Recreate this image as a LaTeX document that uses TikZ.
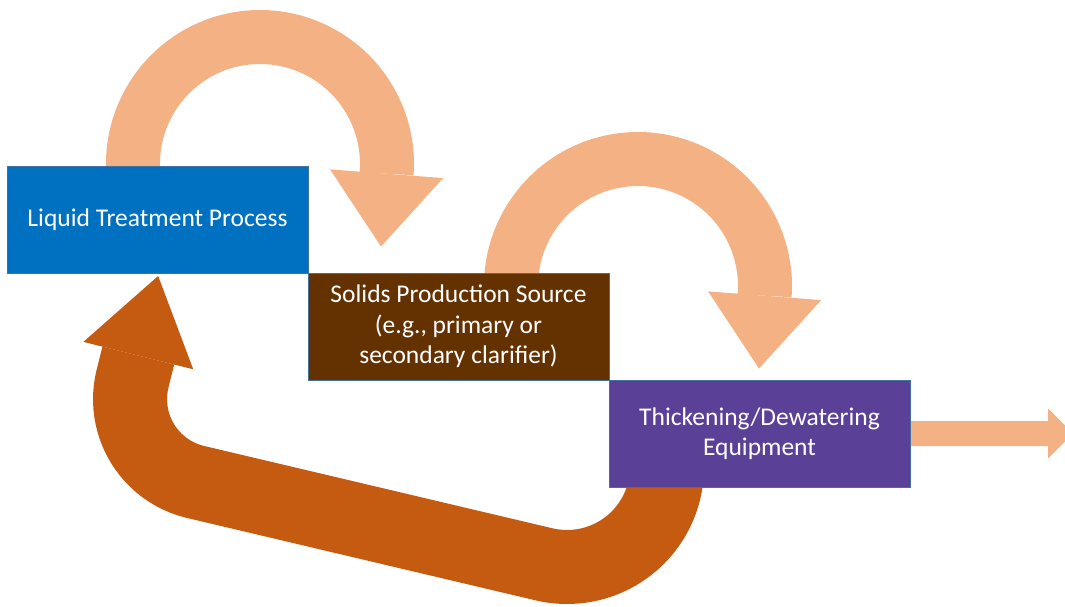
\documentclass[tikz,border=0pt]{standalone}
\usepackage{fontspec}
\setmainfont{Carlito}
\usepackage{xcolor}
\usetikzlibrary{calc,positioning,backgrounds}

\definecolor{ltblue}{RGB}{0,112,192}
\definecolor{spsbrown}{RGB}{100,50,0}
\definecolor{tdepurple}{RGB}{91,64,151}
\definecolor{boxedge}{RGB}{65,113,156}
\definecolor{peach}{RGB}{244,177,131}
\definecolor{rust}{RGB}{197,90,17}

\begin{document}
\begin{tikzpicture}[
			x=1pt, y=1pt,
			box/.style={draw=boxedge, line width=0.8pt, text=white, minimum width=301pt,
				minimum height=107pt, inner sep=0pt, outer sep=0pt, align=center,
				font=\fontsize{25.5}{30.5}\selectfont}
			]
			\useasboundingbox (0,0) rectangle (1065,606);
			% Process boxes, stepping down to the right
			\node[box, fill=ltblue] (lt) at (157.5,386.5) {Liquid Treatment Process};
			\node[box, fill=spsbrown, below right=0pt and 0pt of lt] (sps) {Solids Production Source\\(e.g., primary or\\secondary clarifier)};
			\node[box, fill=tdepurple, below right=0pt and 0pt of sps] (tde) {Thickening/Dewatering\\Equipment};
			
			\begin{scope}[on background layer]
				% Curved arrows from one box over to the next
				\coordinate (c1) at ($(lt.north east)+(-48,2)$);
				\coordinate (c2) at ($(sps.north east)+(29,-13)$);
				\foreach \c in {c1,c2} {
					\draw[peach, line width=54pt] ($(\c)+(185:127)$) arc[start angle=185, end angle=-4.4, radius=127];
					\fill[peach] ($(\c)+(-4.4:70.3)$) -- ($(\c)+(-4.4:183.7)$) -- ($(\c)+(-4.4:127)+(-94.4:73)$) -- cycle;
				}
				% Outlet arrow
				\fill[peach] ($(tde.east)+(0,12.5)$) -- ++(138,0) -- ++(0,12.5) -- ($(tde.east)+(156,7)$)
					-- ($(tde.east)+(156,-7)$) -- ($(tde.east)+(138,-25)$) -- ++(0,12.5) -- ($(tde.east)+(0,-12.5)$) -- cycle;
				% Return arrow back to the liquid process
				\draw[rust, line width=74pt] ($(tde.south west)+(58,40)$) -- ($(tde.south west)+(58,20)$)
					arc[start angle=0, end angle=-103.7, radius=100] -- (194.9,124.2)
					arc[start angle=256.3, end angle=166, radius=85] -- ++(76:23.8) coordinate (bk);
				\fill[rust] ($(bk)+(-14:56.6)$) -- ($(bk)+(76:82)$) -- ($(bk)+(166:56.6)$) -- cycle;
			\end{scope}
		\end{tikzpicture}
\end{document}
